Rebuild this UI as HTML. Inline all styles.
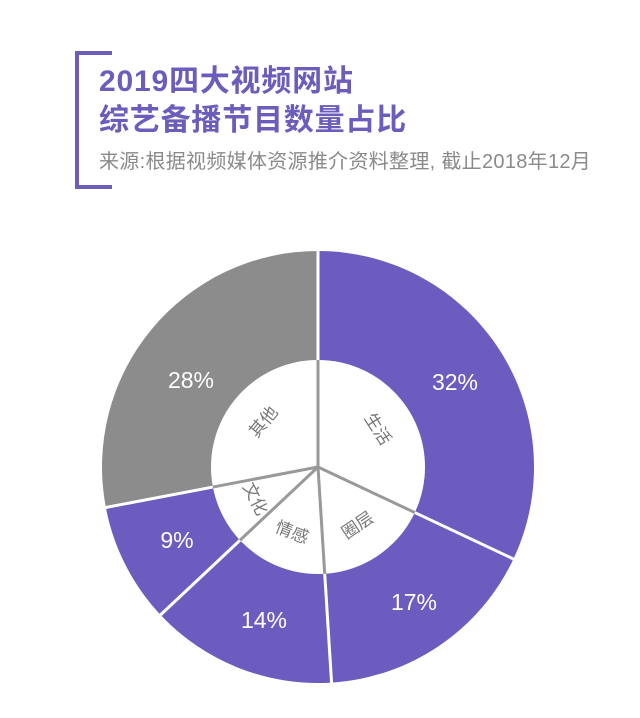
<!DOCTYPE html>
<html><head><meta charset="utf-8"><style>
body{margin:0;background:#fff;width:640px;height:718px;overflow:hidden;position:relative;font-family:"Liberation Sans","Noto Sans CJK SC",sans-serif}
.br{position:absolute;background:#6c5cbb}
.t{position:absolute;left:99px;color:#6c5cbb;font-weight:bold;font-size:30px;line-height:36px;letter-spacing:0.8px}
.s{position:absolute;left:99px;top:145px;color:#8a8a8a;font-size:20px;letter-spacing:0.3px}
</style></head><body>
<div class="br" style="left:75px;top:51px;width:4px;height:138px"></div>
<div class="br" style="left:75px;top:51px;width:37px;height:4px"></div>
<div class="br" style="left:75px;top:185px;width:37px;height:4px"></div>
<div class="t" style="top:64px">2019四大视频网站</div>
<div class="t" style="top:103px">综艺备播节目数量占比</div>
<div class="s">来源:根据视频媒体资源推介资料整理, 截止2018年12月</div>
<svg id="c" width="640" height="718" style="position:absolute;left:0;top:0"></svg>
<script>
var cx=318,cy=467,R=216,r=107;
var pct=[32,17,14,9,28],cols=['#6c5cc0','#6c5cc0','#6c5cc0','#6c5cc0','#8c8c8c'];
var names=['生活','圈层','情感','文化','其他'];
var lbl=[[455,382],[414,602],[264,620],[177,540],[191,380]];
function p(a,rad){var t=a*Math.PI/180;return [cx+rad*Math.sin(t),cy-rad*Math.cos(t)];}
var s='',a=0,lines='',ins='';
for(var i=0;i<5;i++){var b=a+pct[i]*3.6;var A=p(a,R),B=p(b,R);
s+='<path d="M'+cx+','+cy+'L'+A+'A'+R+','+R+' 0 '+(b-a>180?1:0)+' 1 '+B+'Z" fill="'+cols[i]+'"/>';
var m=(a+b)/2,L=p(m,r*0.66),rot;
if(m>90&&m<270)rot=m-180;else if(m>=270)rot=m-360;else rot=m;
ins+='<text x="'+L[0]+'" y="'+L[1]+'" transform="rotate('+rot+' '+L[0]+' '+L[1]+')" text-anchor="middle" dominant-baseline="central" font-size="17" fill="#777">'+names[i]+'</text>';
s+='<text x="'+lbl[i][0]+'" y="'+lbl[i][1]+'" text-anchor="middle" dominant-baseline="central" font-size="23" fill="#fff">'+pct[i]+'%</text>';
var E=p(a,R+2),I=p(a,r);lines+='<line x1="'+I[0]+'" y1="'+I[1]+'" x2="'+E[0]+'" y2="'+E[1]+'" stroke="#fff" stroke-width="3"/>';
lines+='<line x1="'+cx+'" y1="'+cy+'" x2="'+I[0]+'" y2="'+I[1]+'" stroke="#999" stroke-width="3"/>';
a=b;}
document.getElementById('c').innerHTML=s+'<circle cx="'+cx+'" cy="'+cy+'" r="'+r+'" fill="#fff"/>'+lines+ins;
</script>
</body></html>
